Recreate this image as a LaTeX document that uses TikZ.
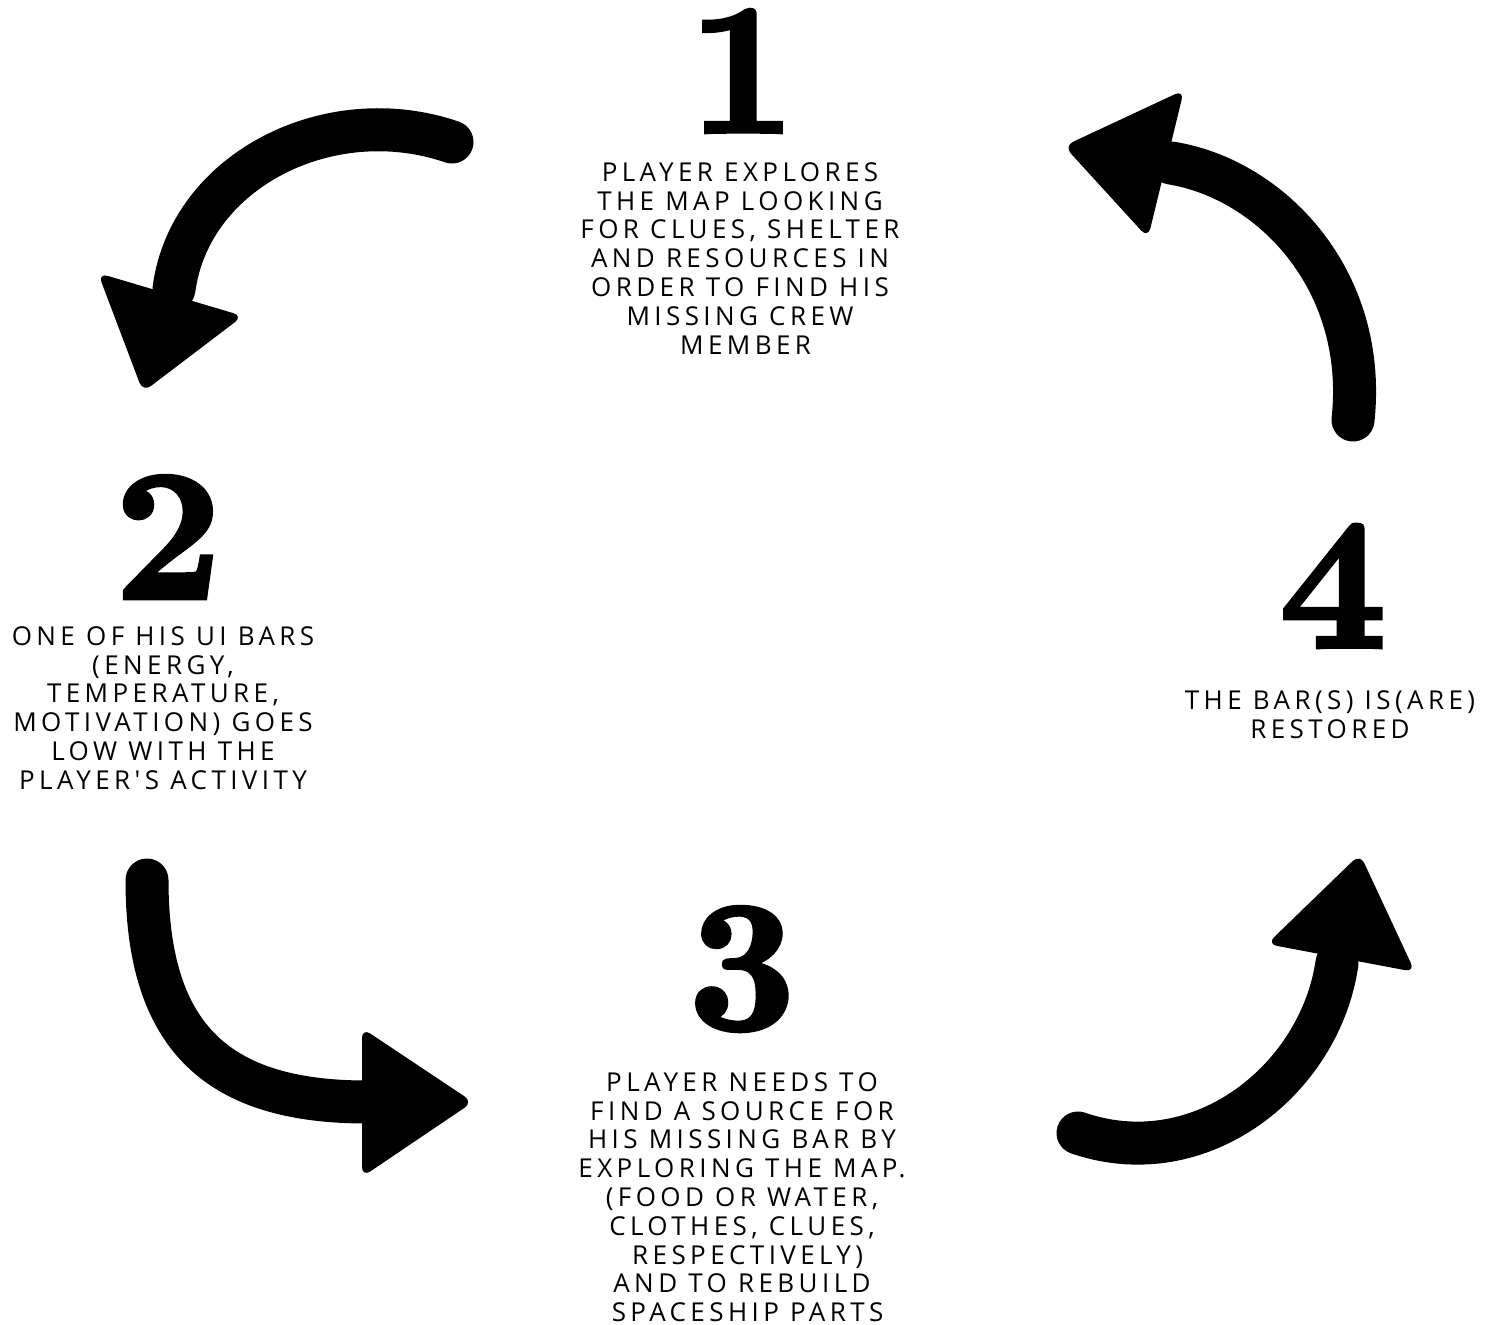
\documentclass[tikz,border=0pt]{standalone}
\usepackage{fontspec}
\newfontfamily\labelfont[LetterSpace=17]{Open Sans}
\newfontfamily\digitfont{lmroman10-bold}[Extension=.otf, FakeBold=2.5]
\begin{document}
\begin{tikzpicture}[x=0.5pt,y=-0.5pt,
  digit/.style={inner sep=0pt, anchor=center, font=\digitfont\fontsize{93}{93}\selectfont},
  steptext/.style={inner sep=0pt, anchor=north, align=center, font=\labelfont\fontsize{13}{14.4}\selectfont},
  thickcurve/.style={line width=21.5pt, line cap=round, draw=black},
  headtri/.style={fill=black, rounded corners=5pt}]
\fill[white] (0,0) rectangle (1494,1324);
\useasboundingbox (0,0) rectangle (1494,1324);

% numbers
\node[digit] (n1) at (742,71) {1};
\node[digit] (n2) at (168,537) {2};
\node[digit] (n3) at (742,969) {3};
\node[digit] (n4) at (1333,586) {4};

% texts
\node[steptext] (t1) at (740,162) {PLAYER EXPLORES\\THE MAP LOOKING\\FOR CLUES, SHELTER\\AND RESOURCES IN\\ORDER TO FIND HIS\\MISSING CREW\\~MEMBER};
\node[steptext] (t2) at (163,626) {ONE OF HIS UI BARS\\(ENERGY,\\TEMPERATURE,\\MOTIVATION) GOES\\LOW WITH THE\\PLAYER'S ACTIVITY};
\node[steptext] (t4) at (1330,690) {THE BAR(S) IS(ARE)\\RESTORED};
\node[steptext] (t3) at (742,1072) {PLAYER NEEDS TO\\FIND A SOURCE FOR\\HIS MISSING BAR BY\\EXPLORING THE MAP.\\(FOOD OR WATER,\\CLOTHES, CLUES,\\~RESPECTIVELY)\\AND TO REBUILD~\\~SPACESHIP PARTS};

% arrow 1 -> 2 (top left)
\coordinate (a1s) at (452,142);
\coordinate (a1e) at (174,289);
\draw[thickcurve] (a1s) .. controls (330,100) and (190,170) .. (a1e);
\fill[headtri] (98,273) -- (243,316) -- (143,392) -- cycle;

% arrow 2 -> 3 (bottom left)
\coordinate (a2s) at (147,880);
\coordinate (a2e) at (367,1102);
\draw[thickcurve] (a2s) .. controls (147,1040) and (220,1102) .. (a2e);
\fill[headtri] (362,1028) -- (473,1102) -- (362,1177) -- cycle;

% arrow 3 -> 4 (bottom right)
\coordinate (a3s) at (1078,1133);
\coordinate (a3e) at (1337,963);
\draw[thickcurve] (a3s) .. controls (1200,1175) and (1320,1080) .. (a3e);
\fill[headtri] (1267,944) -- (1360,854) -- (1415,972) -- cycle;

% arrow 4 -> 1 (top right)
\coordinate (a4s) at (1353,420);
\coordinate (a4e) at (1171,163);
\draw[thickcurve] (a4s) .. controls (1368,280) and (1271,179) .. (a4e);
\fill[headtri] (1184,90) -- (1064,146) -- (1148,238) -- cycle;
\end{tikzpicture}
\end{document}
